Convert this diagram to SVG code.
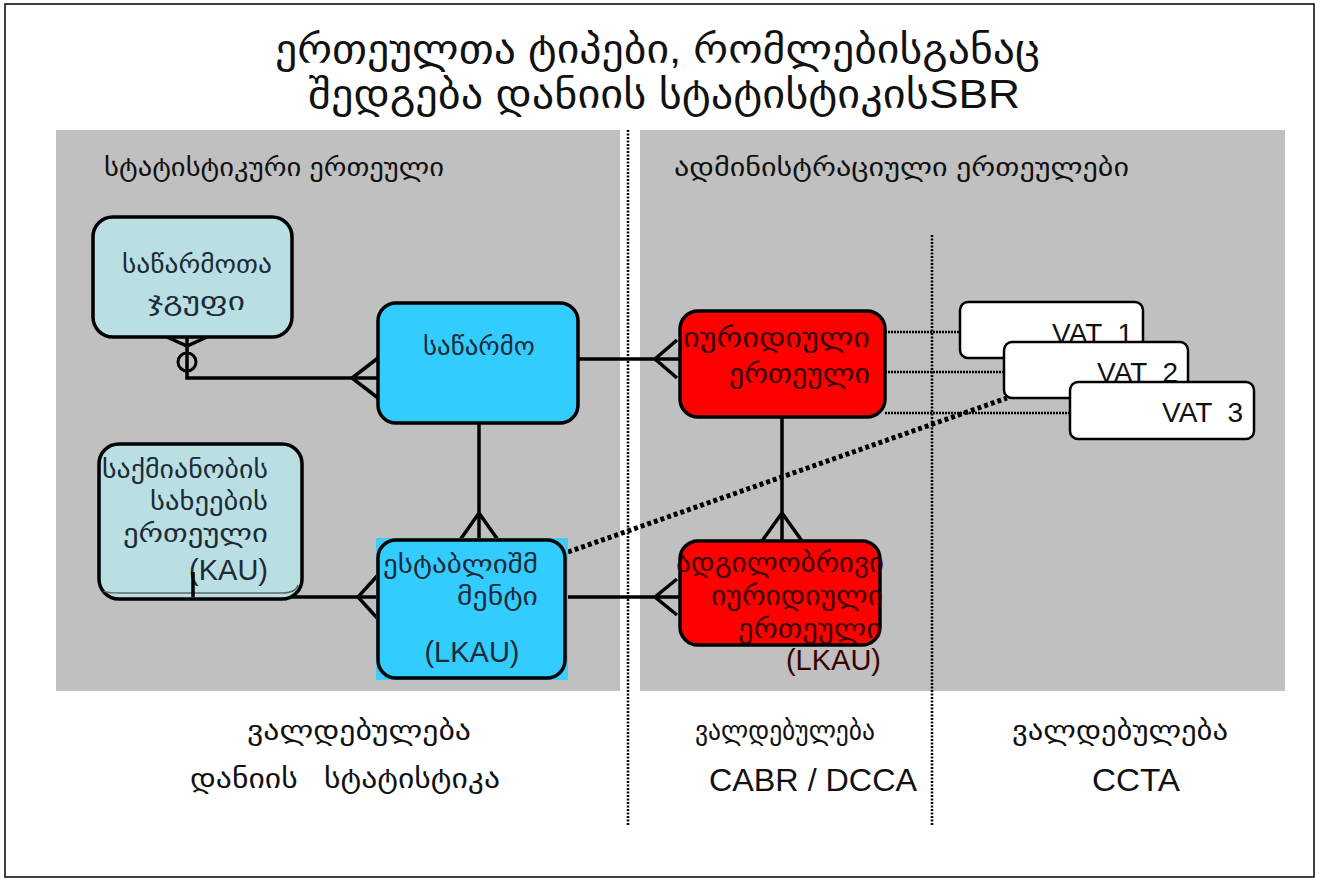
<svg xmlns="http://www.w3.org/2000/svg" width="1322" height="882" viewBox="0 0 1322 882">
<style>
  .ge { font-family: "Liberation Sans", "DejaVu Sans", sans-serif; }
  .title { font-size: 40px; fill: #111; }
  .hdr { font-size: 25px; fill: #111; }
  .box { stroke: #000; stroke-width: 3.5; }
  .lb { fill: #b9dfe3; }
  .cy { fill: #33ccff; }
  .rd { fill: #ff0000; }
  .wt { fill: #ffffff; stroke: #000; stroke-width: 2.5; }
  .conn { fill: none; stroke: #000; stroke-width: 3.5; }
  .thin { fill: none; stroke: #000; stroke-width: 2.5; stroke-dasharray: 2 1; }
  .thick { fill: none; stroke: #000; stroke-width: 5; stroke-dasharray: 4 3; }
  .vdot { fill: none; stroke: #000; stroke-width: 2.5; stroke-dasharray: 2 1.5; }
  .nt { font-size: 26px; fill: #1d2a38; }
  .lat { font-size: 29px; }
  .rt { font-size: 28px; fill: #3a0000; }
  .vat { font-size: 28px; fill: #111; }
  .bt { font-size: 28px; fill: #111; }
  .bl { font-size: 32px; fill: #111; }
</style>
<rect x="0" y="0" width="1322" height="882" fill="#ffffff"/>
<rect x="5" y="4" width="1309" height="873" fill="none" stroke="#000" stroke-width="1.5"/>

<g id="title" class="ge title">
  <text x="275" y="63" textLength="765" lengthAdjust="spacingAndGlyphs">ერთეულთა ტიპები, რომლებისგანაც</text>
  <text x="308" y="108" textLength="712" lengthAdjust="spacingAndGlyphs">შედგება დანიის სტატისტიკისSBR</text>
</g>

<g id="panels">
  <rect x="56" y="130" width="564" height="561" fill="#c0c0c0"/>
  <rect x="640" y="130" width="645" height="561" fill="#c0c0c0"/>
  <text class="ge hdr" x="104" y="176" textLength="340" lengthAdjust="spacingAndGlyphs">სტატისტიკური ერთეული</text>
  <text class="ge hdr" x="674" y="176" textLength="455" lengthAdjust="spacingAndGlyphs">ადმინისტრაციული ერთეულები</text>
  <line class="vdot" x1="628" y1="130" x2="628" y2="826"/>
  <line class="vdot" x1="932" y1="235" x2="932" y2="826"/>
</g>

<g id="connectors">
  <path class="conn" d="M187 337 V378 H378"/>
  <circle cx="187" cy="362" r="9" fill="none" stroke="#000" stroke-width="3"/>
  <path class="conn" d="M167 337 L187 346 L207 337"/>
  <path class="conn" d="M378 358 L352 378 L378 398"/>
  <path class="conn" d="M578 359 H680"/>
  <path class="conn" d="M677 340 L655 359 L677 378"/>
  <path class="conn" d="M479 423 V540"/>
  <path class="conn" d="M460 540 L479 513 L498 540"/>
  <path class="conn" d="M193 572 V597 H378"/>
  <path class="conn" d="M378 575 L358 597 L378 619"/>
  <path class="conn" d="M565 597 H680"/>
  <path class="conn" d="M677 579 L655 597 L677 615"/>
  <path class="conn" d="M782 417 V541"/>
  <path class="conn" d="M762 541 L782 513 L802 541"/>
  <path class="thin" d="M885 332 H960"/>
  <path class="thin" d="M885 372 H1004"/>
  <path class="thin" d="M885 413 H1070"/>
  <path class="thick" d="M568 552 L1007 398"/>
</g>

<g id="enterprise-group">
  <rect class="box lb" x="93" y="217" width="199" height="120" rx="20"/>
  <text class="ge nt" x="122" y="273" textLength="150" lengthAdjust="spacingAndGlyphs">საწარმოთა</text>
  <text class="ge nt" x="148" y="310" textLength="97" lengthAdjust="spacingAndGlyphs">ჯგუფი</text>
</g>

<g id="enterprise">
  <rect class="box cy" x="378" y="303" width="200" height="120" rx="18"/>
  <text class="ge nt" x="423" y="355" textLength="112" lengthAdjust="spacingAndGlyphs">საწარმო</text>
</g>

<g id="kau">
  <rect class="box lb" x="99" y="444" width="203" height="155" rx="20"/>
  <path d="M104 591 Q106 593 120 593 H282 Q296 593 298 585" fill="none" stroke="#666" stroke-width="1.5"/>
  <g class="ge nt">
    <text x="102" y="478" textLength="166" lengthAdjust="spacingAndGlyphs">საქმიანობის</text>
    <text x="150" y="510" textLength="118" lengthAdjust="spacingAndGlyphs">სახეების</text>
    <text x="123" y="542" textLength="145" lengthAdjust="spacingAndGlyphs">ერთეული</text>
    <text class="lat" x="268" y="580" text-anchor="end">(KAU)</text>
  </g>
  <path d="M193 572 V597" fill="none" stroke="#000" stroke-width="3.5"/>
</g>

<g id="lkau">
  <rect x="376" y="538" width="192" height="142" fill="#3fcdf6"/>
  <rect class="box cy" x="378" y="540" width="187" height="138" rx="18"/>
  <text class="ge nt" x="383" y="573" textLength="155" lengthAdjust="spacingAndGlyphs">ესტაბლიშმ</text>
  <text class="ge nt" x="457" y="605" textLength="81" lengthAdjust="spacingAndGlyphs">მენტი</text>
  <text class="ge nt lat" text-anchor="middle" x="472" y="662">(LKAU)</text>
</g>

<g id="legal-unit">
  <rect class="box rd" x="680" y="311" width="205" height="106" rx="18"/>
  <text class="ge rt" x="683" y="347" textLength="187" lengthAdjust="spacingAndGlyphs">იურიდიული</text>
  <text class="ge rt" x="729" y="383" textLength="141" lengthAdjust="spacingAndGlyphs">ერთეული</text>
</g>

<g id="local-legal-unit">
  <rect class="box rd" x="680" y="541" width="200" height="104" rx="18"/>
  <g class="ge rt">
    <text x="676" y="572" textLength="208" lengthAdjust="spacingAndGlyphs">ადგილობრივი</text>
    <text x="711" y="605" textLength="172" lengthAdjust="spacingAndGlyphs">იურიდიული</text>
    <text x="738" y="638" textLength="144" lengthAdjust="spacingAndGlyphs">ერთეული</text>
    <text class="lat" x="881" y="670" text-anchor="end">(LKAU)</text>
  </g>
</g>

<g id="vat1">
  <rect class="wt" x="960" y="302" width="183" height="56" rx="8"/>
  <text class="ge vat" text-anchor="end" x="1133" y="343" xml:space="preserve">VAT  1</text>
</g>
<g id="vat2">
  <rect class="wt" x="1004" y="342" width="184" height="56" rx="8"/>
  <text class="ge vat" text-anchor="end" x="1178" y="382" xml:space="preserve">VAT  2</text>
</g>
<g id="vat3">
  <rect class="wt" x="1070" y="382" width="184" height="57" rx="8"/>
  <text class="ge vat" text-anchor="end" x="1243" y="422" xml:space="preserve">VAT  3</text>
</g>

<g id="footer" class="ge">
  <text class="bt" x="247" y="740" textLength="224" lengthAdjust="spacingAndGlyphs">ვალდებულება</text>
  <text class="bt" x="190" y="788" textLength="310" lengthAdjust="spacingAndGlyphs" xml:space="preserve">დანიის   სტატისტიკა</text>
  <text class="bt" x="695" y="740" textLength="180" lengthAdjust="spacingAndGlyphs">ვალდებულება</text>
  <text class="bl" x="709" y="791" textLength="208" lengthAdjust="spacingAndGlyphs">CABR / DCCA</text>
  <text class="bt" x="1012" y="740" textLength="216" lengthAdjust="spacingAndGlyphs">ვალდებულება</text>
  <text class="bl" x="1092" y="791" textLength="88" lengthAdjust="spacingAndGlyphs">CCTA</text>
</g>
</svg>
